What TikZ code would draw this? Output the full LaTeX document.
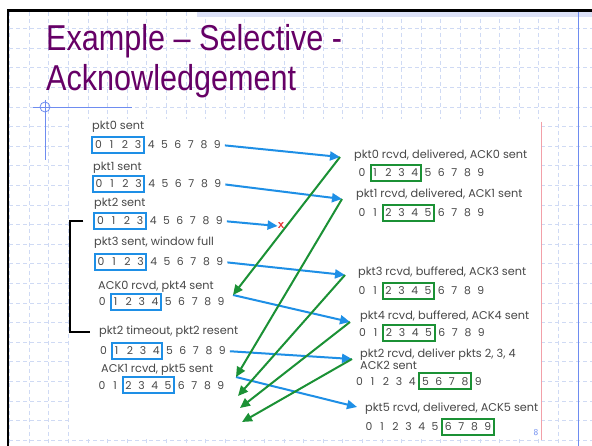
\documentclass[tikz,border=0pt]{standalone}
\usepackage{fontspec}
\newfontfamily\gothic{Poppins}
\newfontfamily\titlefont[FakeStretch=0.85]{Liberation Sans}
\usetikzlibrary{arrows.meta, fit}

\definecolor{slidepurple}{HTML}{660066}
\definecolor{pktblue}{HTML}{1E8FE6}
\definecolor{ackgreen}{HTML}{1B9135}
\definecolor{txtgray}{HTML}{484848}
\definecolor{gridblue}{HTML}{CFDAF4}
\definecolor{ruleblue}{HTML}{6E8CF0}
\definecolor{edgepink}{HTML}{F2A0A8}
\definecolor{bandblue}{HTML}{DCE1F7}
\definecolor{lostred}{HTML}{E53030}

% one window row: digits 0..9, named <row>-<digit>
\newcommand{\digitrow}[3]{%
  \foreach \d in {0,...,9}{\node[digit] (#1-\d) at ({#2+13.2*\d},#3) {\d};}}

\begin{document}
\begin{tikzpicture}[
    x=1pt, y=-1pt,
    status/.style={anchor=west, inner sep=0pt, align=left, text=txtgray, font=\gothic\fontsize{11.3}{11}\selectfont},
    digit/.style={inner sep=0pt, text height=8pt, text depth=0pt, text=txtgray, font=\gothic\fontsize{10.8}{12}\selectfont},
    sbox/.style={draw=pktblue, line width=2pt, inner xsep=2.5pt, inner ysep=4pt},
    rbox/.style={draw=ackgreen, line width=2pt, inner xsep=2.5pt, inner ysep=4pt},
    data/.style={draw=pktblue, line width=2pt, -{Triangle[length=10pt,width=9pt]}},
    ack/.style={draw=ackgreen, line width=2pt, -{Triangle[length=10pt,width=9pt]}},
    gridline/.style={draw=gridblue, line width=0.7pt, dash pattern=on 4pt off 3pt},
    title/.style={anchor=base west, inner sep=0pt, text=slidepurple, font=\titlefont\fontsize{36}{40}\selectfont}
]
\useasboundingbox (0,0) rectangle (592,446);

% slide background
\fill[white] (0,0) rectangle (592,446);
\foreach \k in {0,...,29} \draw[gridline] ({578-19.6*\k},12) -- ({578-19.6*\k},446);
\foreach \k in {-4,...,17} \draw[gridline] (9,{107+19.6*\k}) -- (592,{107+19.6*\k});
\fill[bandblue] (197,12) rectangle (592,17);
\draw[black, line width=2.5pt] (7,10.5) -- (592,10.5);
\draw[black, line width=2.5pt] (8,9.5) -- (8,446);
\draw[ruleblue, line width=1pt] (578,12) -- (578,446);
\draw[ruleblue, line width=0.8pt] (33,107) -- (132,107);
\draw[ruleblue, line width=0.8pt] (45,100) -- (45,160);
\draw[ruleblue, line width=0.8pt] (45,107) circle (5);

\node[title] (head1) at (46,51) {Example – Selective -};
\node[title] (head2) at (46,91) {Acknowledgement};

% picture area
\fill[white] (69,119) rectangle (541,439);
\draw[edgepink, line width=0.8pt] (541,122) -- (541,440);
\node[text=ruleblue, font=\sffamily\fontsize{9}{10}\selectfont] (page) at (536,433) {8};

% sender side
\node[status] (ls1) at (92,127) {pkt0 sent};
\digitrow{s1}{98.5}{145}
\node[sbox, fit=(s1-0)(s1-3)] (s1box) {};
\node[status] (ls2) at (93,168) {pkt1 sent};
\digitrow{s2}{99}{184}
\node[sbox, fit=(s2-0)(s2-3)] (s2box) {};
\node[status] (ls3) at (94,204) {pkt2 sent};
\digitrow{s3}{100.5}{221}
\node[sbox, fit=(s3-0)(s3-3)] (s3box) {};
\node[status] (ls4) at (94,243) {pkt3 sent, window full};
\digitrow{s4}{101}{262}
\node[sbox, fit=(s4-0)(s4-3)] (s4box) {};
\node[status] (ls5) at (98,287) {ACK0 rcvd, pkt4 sent};
\digitrow{s5}{102.3}{302}
\node[sbox, fit=(s5-1)(s5-4)] (s5box) {};
\node[status] (ls6) at (99,332) {pkt2 timeout, pkt2 resent};
\digitrow{s6}{103.5}{351}
\node[sbox, fit=(s6-1)(s6-4)] (s6box) {};
\node[status] (ls7) at (101,370) {ACK1 rcvd, pkt5 sent};
\digitrow{s7}{102}{385}
\node[sbox, fit=(s7-2)(s7-5)] (s7box) {};

% receiver side
\node[status] (lr1) at (354,156) {pkt0 rcvd, delivered, ACK0 sent};
\digitrow{r1}{362}{173}
\node[rbox, fit=(r1-1)(r1-4)] (r1box) {};
\node[status] (lr2) at (356,195) {pkt1 rcvd, delivered, ACK1 sent};
\digitrow{r2}{362}{213}
\node[rbox, fit=(r2-2)(r2-5)] (r2box) {};
\node[status] (lr3) at (358,273) {pkt3 rcvd, buffered, ACK3 sent};
\digitrow{r3}{362}{291}
\node[rbox, fit=(r3-2)(r3-5)] (r3box) {};
\node[status] (lr4) at (360,317) {pkt4 rcvd, buffered, ACK4 sent};
\digitrow{r4}{362.5}{333}
\node[rbox, fit=(r4-2)(r4-5)] (r4box) {};
\node[status] (lr5) at (360,359.5) {pkt2 rcvd, deliver pkts 2, 3, 4\\ACK2 sent};
\digitrow{r5}{359.5}{381}
\node[rbox, fit=(r5-5)(r5-8)] (r5box) {};
\node[status] (lr6) at (365,409) {pkt5 rcvd, delivered, ACK5 sent};
\digitrow{r6}{369}{427}
\node[rbox, fit=(r6-6)(r6-9)] (r6box) {};

% where the arrows meet
\coordinate (r1in) at (340,157);
\coordinate (r2in) at (342,199);
\coordinate (r3in) at (345,275);
\coordinate (r4in) at (350,322);
\coordinate (r5in) at (352,359);
\coordinate (r6in) at (357,407);
\coordinate (s5in) at (233,295);
\coordinate (s7in) at (236,377);
\coordinate (a3) at (238,396);
\coordinate (a4) at (240,408);
\coordinate (a2) at (242,422);

\node[inner sep=0pt, text=lostred, font=\sffamily\bfseries\fontsize{13}{14}\selectfont] (lost) at (281,226) {x};

% packets
\path[data, shorten <=4pt] (s1-9.east) -- (r1in);
\path[data, shorten <=4pt] (s2-9.east) -- (r2in);
\path[data, shorten <=4pt] (s3-9.east) -- (lost.west);
\path[data, shorten <=4pt] (s4-9.east) -- (r3in);
\path[data] (s5in) -- (r4in);
\path[data, shorten <=4pt] (s6-9.east) -- (r5in);
\path[data] (s7in) -- (r6in);

% acks
\path[ack] (r1in) -- (s5in);
\path[ack] (r2in) -- (s7in);
\path[ack] (r3in) -- (a3);
\path[ack] (r4in) -- (a4);
\path[ack] (r5in) -- (a2);

% timeout bracket
\draw[black, line width=2pt] ([xshift=-10pt]s3box.west) -- ++(-13,0) |- ([xshift=-9pt]ls6.west);

\end{tikzpicture}
\end{document}
